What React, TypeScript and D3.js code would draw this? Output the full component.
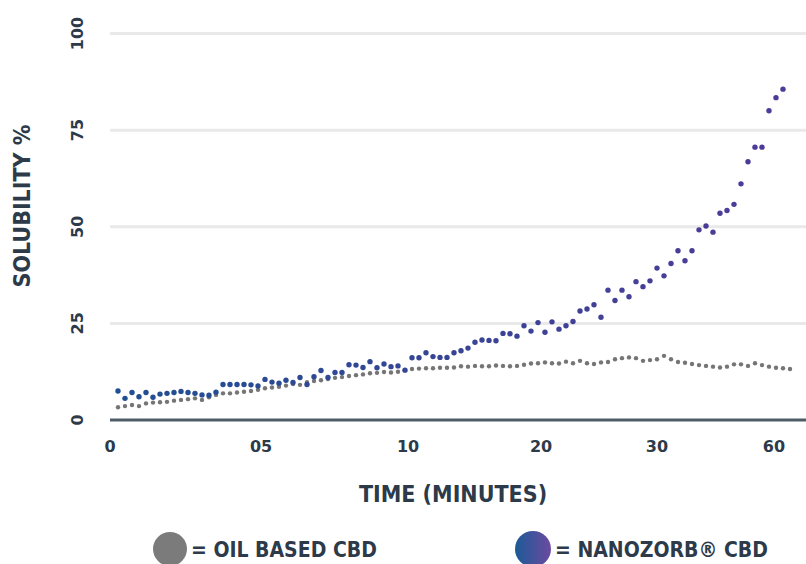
import React from "react";
import * as d3 from "d3";

// Sample index along the time axis (evenly spaced readings)
const oilValues: number[] = [
  3.3, 3.6, 3.9, 3.6, 4.3, 4.5, 4.6, 4.7, 5.0, 5.2, 5.4, 5.6, 5.2, 5.9, 6.5, 6.9, 6.9, 7.1, 7.3, 7.5, 7.8, 8.2, 8.4, 8.6,
  8.9, 9.3, 9.1, 9.8, 10.1, 10.3, 10.6, 10.9, 11.1, 11.4, 11.6, 11.8, 12.1, 12.2, 12.4, 12.3, 12.5, 12.9, 13.2, 13.3, 13.4, 13.4, 13.5, 13.5, 13.6,
  13.9, 13.8, 14.0, 13.9, 13.9, 14.1, 14.0, 13.9, 14.0, 14.3, 14.6, 14.7, 14.9, 14.7, 14.6, 15.1, 14.7, 15.3, 14.7, 14.5, 14.9, 15.0,
  15.7, 16.0, 16.2, 16.0, 15.3, 15.5, 15.7, 16.6, 15.7, 15.0, 14.8, 14.5, 14.2, 14.0, 13.8, 13.6, 13.8, 14.4, 14.4, 14.0, 14.7, 14.2, 13.8, 13.5, 13.4, 13.2,
];

const nanoValues: number[] = [
  7.5, 5.6, 7.1, 6.0, 7.1, 5.9, 6.7, 6.9, 7.1, 7.4, 7.1, 6.9, 6.5, 6.4, 7.2, 9.2, 9.2, 9.2, 9.2, 9.1,
  8.8, 10.5, 9.8, 9.5, 10.3, 9.7, 11.0, 9.2, 11.2, 12.8, 11.0, 12.3, 12.3, 14.3, 14.2, 13.6, 15.1, 13.5, 14.5, 13.8,
  14.0, 12.9, 16.1, 16.1, 17.4, 16.4, 16.2, 16.2, 17.4, 17.9, 18.6, 20.1, 20.7, 20.6, 20.5, 22.4, 22.3, 21.7, 24.4, 23.0,
  25.2, 22.7, 25.4, 23.5, 24.4, 25.5, 28.2, 28.7, 29.8, 26.6, 33.6, 30.9, 33.6, 31.9, 35.8, 34.5, 36.0, 39.3, 37.3, 40.5,
  43.8, 41.2, 43.8, 49.2, 50.2, 48.6, 53.5, 54.2, 55.8, 61.1, 66.8, 70.6, 70.6, 80.0, 83.4, 85.6,
];

const xTickLabels: string[] = ["0", "05", "10", "20", "30", "60"];
const xTickAt: number[] = [-1.14, 20.43, 41.43, 60.43, 77.0, 93.71];
const yTicks: number[] = [0, 25, 50, 75, 100];

const W = 806;
const H = 564;

export default function App() {
  const x = d3.scaleLinear().domain([0, 96]).range([118, 790]);
  const y = d3.scaleLinear().domain([0, 100]).range([420, 33.5]);
  const nanoColor = d3.interpolateRgb("#1f4f93", "#4f3a98");
  const textColor = "#2c3a4a";
  const condensed = "'DejaVu Sans Condensed', 'DejaVu Sans', sans-serif";
  const tickFont = "'DejaVu Sans', sans-serif";

  return (
    <svg width={W} height={H} style={{ position: "absolute", left: 0, top: 0, background: "#fff" }}>
      <defs>
        <linearGradient id="nanoGrad" x1="0" x2="1" y1="0" y2="0">
          <stop offset="0%" stopColor="#1c5a97" />
          <stop offset="100%" stopColor="#6c4aa0" />
        </linearGradient>
      </defs>
      <rect width={W} height={H} fill="#fff" />
      {/* gridlines */}
      {yTicks.filter((t) => t > 0).map((t) => (
        <line key={t} x1={110} x2={W} y1={y(t)} y2={y(t)} stroke="#e9e9e9" strokeWidth={3} />
      ))}
      {/* y tick labels */}
      {yTicks.map((t) => (
        <text
          key={t}
          transform={`translate(77,${y(t)}) rotate(-90)`}
          textAnchor="middle"
          dominantBaseline="central"
          fontFamily={tickFont}
          fontWeight="bold"
          fontSize={16}
          fill={textColor}
        >
          {t}
        </text>
      ))}
      {/* y title */}
      <text
        transform={`translate(22,206) rotate(-90)`}
        textAnchor="middle"
        dominantBaseline="central"
        fontFamily={condensed}
        fontWeight="bold"
        fontSize={23}
        fill={textColor}
      >
        SOLUBILITY %
      </text>
      {/* x axis line */}
      <line x1={110} x2={W} y1={420} y2={420} stroke="#4e5c68" strokeWidth={3} />
      {/* x tick labels */}
      {xTickLabels.map((l, i) => (
        <text
          key={l}
          x={x(xTickAt[i])}
          y={446}
          textAnchor="middle"
          dominantBaseline="central"
          fontFamily={tickFont}
          fontWeight="bold"
          fontSize={16}
          fill={textColor}
        >
          {l}
        </text>
      ))}
      {/* x title */}
      <text
        x={453}
        y={494}
        textAnchor="middle"
        dominantBaseline="central"
        fontFamily={condensed}
        fontWeight="bold"
        fontSize={23}
        fill={textColor}
      >
        TIME (MINUTES)
      </text>
      {/* oil dots */}
      {oilValues.map((v, i) => (
        <circle key={"o" + i} cx={x(i)} cy={y(v)} r={2.2} fill="#757575" />
      ))}
      {/* nano dots */}
      {nanoValues.map((v, i) => (
        <circle key={"n" + i} cx={x(i)} cy={y(v)} r={2.7} fill={nanoColor(i / (nanoValues.length - 1))} />
      ))}
      {/* legend */}
      <circle cx={170} cy={549} r={17} fill="#7b7b7b" />
      <text x={191} y={550} dominantBaseline="central" fontFamily={condensed} fontWeight="bold" fontSize={21} fill={textColor}>
        = OIL BASED CBD
      </text>
      <circle cx={533} cy={549} r={18} fill="url(#nanoGrad)" />
      <text x={555} y={550} dominantBaseline="central" fontFamily={condensed} fontWeight="bold" fontSize={21} fill={textColor}>
        = NANOZORB® CBD
      </text>
    </svg>
  );
}
